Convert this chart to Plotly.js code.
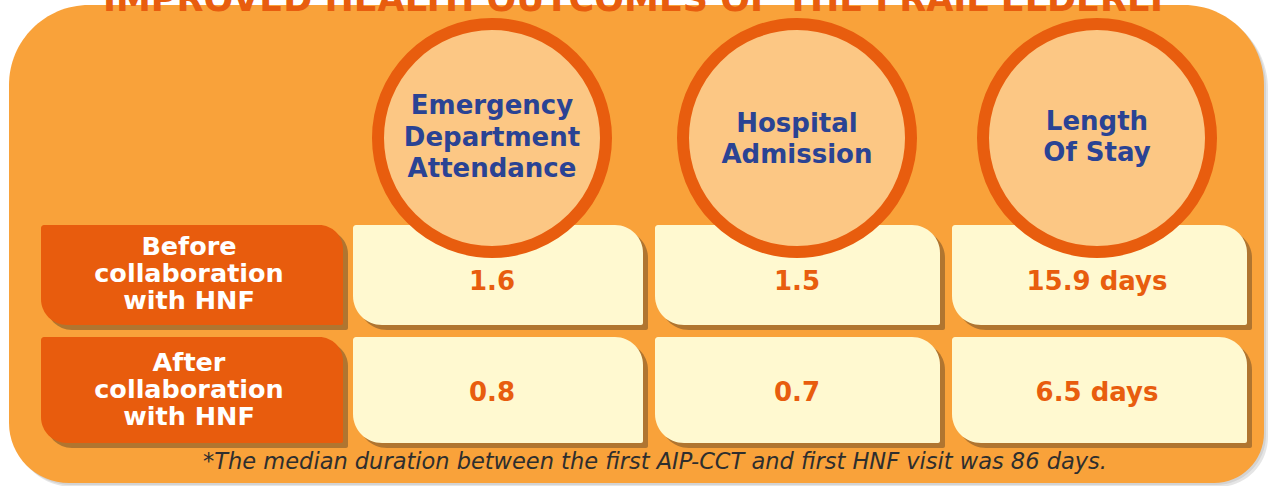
<!DOCTYPE html>
<html>
<head>
<meta charset="utf-8">
<script src="https://cdn.plot.ly/plotly-3.0.1.min.js"></script>
<style>
html,body{margin:0;padding:0;background:#ffffff;}
#chart{width:1268px;height:486px;}
</style>
</head>
<body>
<div id="chart"></div>
<script>
// ---------- DATA ----------
const titleText = 'IMPROVED HEALTH OUTCOMES OF THE FRAIL ELDERLY';
const headers = ['Emergency<br>Department<br>Attendance', 'Hospital<br>Admission', 'Length<br>Of Stay'];
const rowLabels = ['Before<br>collaboration<br>with HNF', 'After<br>collaboration<br>with HNF'];
const beforeValues = [1.6, 1.5, 15.9];
const afterValues = [0.8, 0.7, 6.5];
const valueUnits = ['', '', ' days'];
const footnote = '*The median duration between the first AIP-CCT and first HNF visit was 86 days.';

// ---------- LAYOUT GEOMETRY ----------
const W = 1268, H = 486;
const colX0 = [353, 655, 952];
const colX1 = [643, 940, 1247];
const rowY0 = [225, 337];
const rowY1 = [325, 443];
const labelX0 = 41, labelX1 = 343;
const circleCx = [492, 797, 1097];
const circleCy = 138, circleR = 120, ringW = 12;

const C = {
  bg: '#F9A23A', ring: '#E85D0E', circleFill: '#FCC784', label: '#E85C0D',
  cell: '#FFF9D0', shadow: '#B07530', header: '#2A4394', value: '#E85D0E',
  white: '#FFFFFF', foot: '#2E2E2E', title: '#E85D0E'
};
const BOLD = 'DejaVu Sans, Arial, sans-serif';

function rr(x0, y0, x1, y1, tl, tr, br, bl) {
  const k = 0.4477;
  return 'M' + (x0 + tl) + ',' + y0 +
    ' L' + (x1 - tr) + ',' + y0 +
    ' C' + (x1 - tr * k) + ',' + y0 + ' ' + x1 + ',' + (y0 + tr * k) + ' ' + x1 + ',' + (y0 + tr) +
    ' L' + x1 + ',' + (y1 - br) +
    ' C' + x1 + ',' + (y1 - br * k) + ' ' + (x1 - br * k) + ',' + y1 + ' ' + (x1 - br) + ',' + y1 +
    ' L' + (x0 + bl) + ',' + y1 +
    ' C' + (x0 + bl * k) + ',' + y1 + ' ' + x0 + ',' + (y1 - bl * k) + ' ' + x0 + ',' + (y1 - bl) +
    ' L' + x0 + ',' + (y0 + tl) +
    ' C' + x0 + ',' + (y0 + tl * k) + ' ' + (x0 + tl * k) + ',' + y0 + ' ' + (x0 + tl) + ',' + y0 + ' Z';
}
function pathShape(p, fill, opacity) {
  return {type: 'path', path: p, xref: 'x', yref: 'y', fillcolor: fill, line: {width: 0}, layer: 'below', opacity: opacity == null ? 1 : opacity};
}

const shapes = [];
// background card shadow + card
shapes.push(pathShape(rr(13, 9, 1268, 487, 80, 80, 50, 60), '#000000', 0.10));
shapes.push(pathShape(rr(11, 7, 1266, 485, 80, 80, 50, 60), '#000000', 0.08));
shapes.push(pathShape(rr(9, 5, 1264, 483, 80, 80, 50, 60), C.bg));

// row label boxes
for (let r = 0; r < 2; r++) {
  shapes.push(pathShape(rr(labelX0 + 5, rowY0[r] + 5, labelX1 + 5, rowY1[r] + 5, 3, 24, 2, 26), C.shadow));
  shapes.push(pathShape(rr(labelX0, rowY0[r], labelX1, rowY1[r], 3, 24, 2, 26), C.label));
}
// cells
for (let r = 0; r < 2; r++) {
  for (let c = 0; c < 3; c++) {
    shapes.push(pathShape(rr(colX0[c] + 5, rowY0[r] + 5, colX1[c] + 5, rowY1[r] + 5, 3, 28, 2, 29), C.shadow));
    shapes.push(pathShape(rr(colX0[c], rowY0[r], colX1[c], rowY1[r], 3, 28, 2, 29), C.cell));
  }
}
// header circles
const rMid = circleR - ringW / 2;
for (let c = 0; c < 3; c++) {
  shapes.push({type: 'circle', xref: 'x', yref: 'y', layer: 'below',
    x0: circleCx[c] - rMid, x1: circleCx[c] + rMid, y0: circleCy - rMid, y1: circleCy + rMid,
    fillcolor: C.circleFill, line: {color: C.ring, width: ringW}});
}

// ---------- TEXT TRACES ----------
function linesTrace(labels, cx, cy, spacing, font) {
  const xs = [], ys = [], ts = [];
  labels.forEach((lab, i) => {
    const lines = lab.split('<br>');
    lines.forEach((ln, j) => {
      xs.push(cx[i]);
      ys.push(cy[i] + (j - (lines.length - 1) / 2) * spacing);
      ts.push(ln);
    });
  });
  return {type: 'scatter', mode: 'text', x: xs, y: ys, text: ts, textposition: 'middle center',
    textfont: font, hoverinfo: 'skip', showlegend: false, cliponaxis: false};
}

const traces = [];
traces.push(linesTrace(headers, circleCx, [139, 141, 139], 31.5,
  {family: BOLD, size: 26, color: C.header, weight: 700}));
traces.push(linesTrace(rowLabels, [189, 189], [276, 392], 27,
  {family: BOLD, size: 25.5, color: C.white, weight: 700}));
traces.push({type: 'scatter', mode: 'text', x: circleCx, y: [283, 283, 283],
  text: beforeValues.map((v, i) => v.toFixed(1) + valueUnits[i]), textposition: 'middle center',
  textfont: {family: BOLD, size: 26, color: C.value, weight: 700}, hoverinfo: 'skip', showlegend: false, cliponaxis: false});
traces.push({type: 'scatter', mode: 'text', x: circleCx, y: [394, 394, 394],
  text: afterValues.map((v, i) => v.toFixed(1) + valueUnits[i]), textposition: 'middle center',
  textfont: {family: BOLD, size: 26, color: C.value, weight: 700}, hoverinfo: 'skip', showlegend: false, cliponaxis: false});
traces.push({type: 'scatter', mode: 'text', x: [655], y: [463], text: [footnote], textposition: 'middle center',
  textfont: {family: 'DejaVu Sans, Arial, sans-serif', size: 22.5, color: C.foot, style: 'italic', weight: 200},
  hoverinfo: 'skip', showlegend: false, cliponaxis: false});
traces.push({type: 'scatter', mode: 'text', x: [636], y: [2], text: [titleText], textposition: 'middle center',
  textfont: {family: BOLD, size: 35, color: C.title, weight: 700},
  hoverinfo: 'skip', showlegend: false, cliponaxis: false});

const layout = {
  width: W, height: H,
  margin: {l: 0, r: 0, t: 0, b: 0, pad: 0},
  paper_bgcolor: '#FFFFFF', plot_bgcolor: 'rgba(0,0,0,0)',
  xaxis: {range: [0, W], visible: false, fixedrange: true},
  yaxis: {range: [H, 0], visible: false, fixedrange: true},
  shapes: shapes,
  showlegend: false
};
Plotly.newPlot('chart', traces, layout, {staticPlot: true, displayModeBar: false});
</script>
</body>
</html>
